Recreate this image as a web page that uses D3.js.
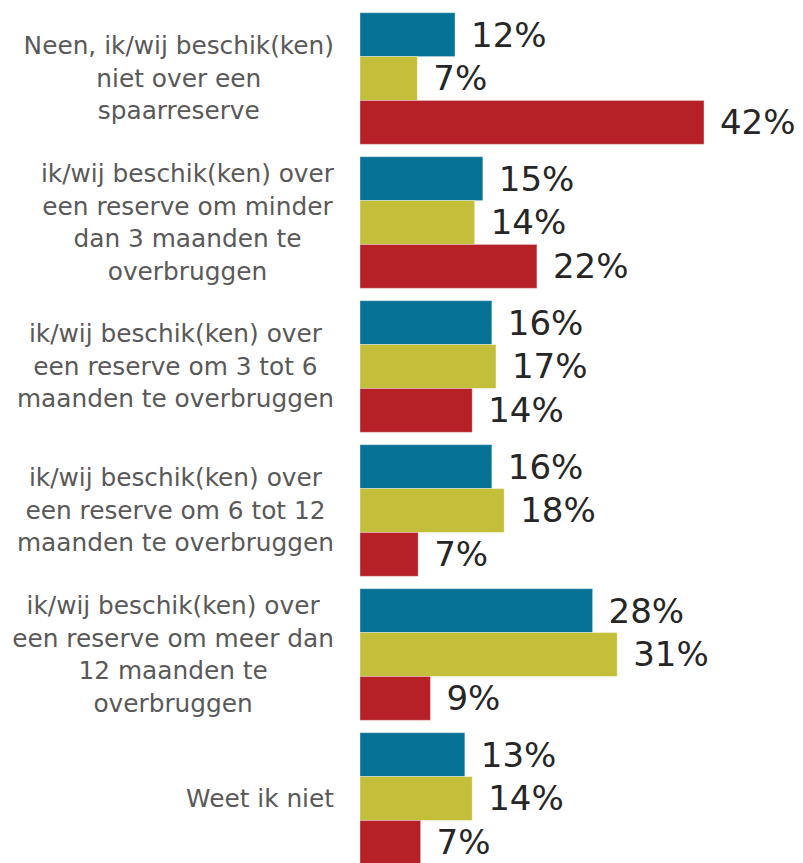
<!DOCTYPE html>
<meta charset="utf-8">
<script src="https://d3js.org/d3.v7.min.js"></script>
<style>
  body { margin: 0; background: #fff; }
</style>
<div id="my_dataviz"></div>

<script>
// categories (label lines separated by \n)
var categories = [
  "Neen, ik/wij beschik(ken)\nniet over een\nspaarreserve",
  "ik/wij beschik(ken) over\neen reserve om minder\ndan 3 maanden te\noverbruggen",
  "ik/wij beschik(ken) over\neen reserve om 3 tot 6\nmaanden te overbruggen",
  "ik/wij beschik(ken) over\neen reserve om 6 tot 12\nmaanden te overbruggen",
  "ik/wij beschik(ken) over\neen reserve om meer dan\n12 maanden te\noverbruggen",
  "Weet ik niet"
];

var seriesNames = ["blue", "olive", "red"];

// values in percent
var blueValues  = [11.6, 15.0, 16.1, 16.1, 28.4, 12.8];
var oliveValues = [ 7.0, 14.0, 16.6, 17.6, 31.4, 13.7];
var redValues   = [42.0, 21.6, 13.7,  7.1,  8.6,  7.4];

var colors = ["#067396", "#c3bf3a", "#b52127"];

var width = 803, height = 863;

var svg = d3.select("#my_dataviz")
  .append("svg")
    .attr("width", width)
    .attr("height", height);

// build table
var data = categories.map(function(c, i) {
  return {cat: c, vals: [blueValues[i], oliveValues[i], redValues[i]]};
});

// scales
var x = d3.scaleLinear()
  .domain([0, 50])
  .range([360, 360 + 50 * 8.19]);

var y = d3.scaleBand()
  .domain(categories)
  .range([12.7, 864.3])
  .paddingInner(0.086)
  .paddingOuter(0);

var ySub = d3.scaleBand()
  .domain(seriesNames)
  .range([0, y.bandwidth()])
  .padding(0);

var color = d3.scaleOrdinal()
  .domain(seriesNames)
  .range(colors);

// groups
var groups = svg.selectAll("g.group")
  .data(data)
  .enter()
  .append("g")
    .attr("class", "group")
    .attr("transform", function(d){ return "translate(0," + y(d.cat) + ")"; });

// bars
groups.selectAll("rect")
  .data(function(d){ return d.vals.map(function(v, j){ return {s: seriesNames[j], v: v}; }); })
  .enter()
  .append("rect")
    .attr("x", x(0))
    .attr("y", function(d){ return ySub(d.s); })
    .attr("width", function(d){ return x(d.v) - x(0); })
    .attr("height", ySub.bandwidth())
    .attr("fill", function(d){ return color(d.s); })
    .attr("stroke", "#ffffff")
    .attr("stroke-opacity", 0.35)
    .attr("stroke-width", 1);

// value labels
groups.selectAll("text.value")
  .data(function(d){ return d.vals.map(function(v, j){ return {s: seriesNames[j], v: v}; }); })
  .enter()
  .append("text")
    .attr("class", "value")
    .attr("x", function(d){ return x(d.v) + 16; })
    .attr("y", function(d){ return ySub(d.s) + ySub.bandwidth() / 2; })
    .attr("dominant-baseline", "central")
    .style("font-family", "DejaVu Sans")
    .style("font-size", "34px")
    .style("fill", "#262626")
    .text(function(d){ return Math.round(d.v) + "%"; });

// category labels, centered lines, block right-aligned next to the bars
var lineHeight = 32.5;
groups.each(function(d) {
  var g = d3.select(this);
  var lines = d.cat.split("\n");
  var t = g.append("text")
    .style("font-family", "DejaVu Sans")
    .style("font-size", "24.8px")
    .style("fill", "#595959")
    .attr("text-anchor", "middle");
  var spans = t.selectAll("tspan")
    .data(lines)
    .enter()
    .append("tspan")
      .attr("y", function(l, i){ return y.bandwidth() / 2 + (i - (lines.length - 1) / 2) * lineHeight; })
      .attr("dominant-baseline", "central")
      .text(function(l){ return l; });
  var maxW = 0;
  spans.each(function(){ maxW = Math.max(maxW, this.getComputedTextLength()); });
  spans.attr("x", 334 - maxW / 2);
});
</script>
